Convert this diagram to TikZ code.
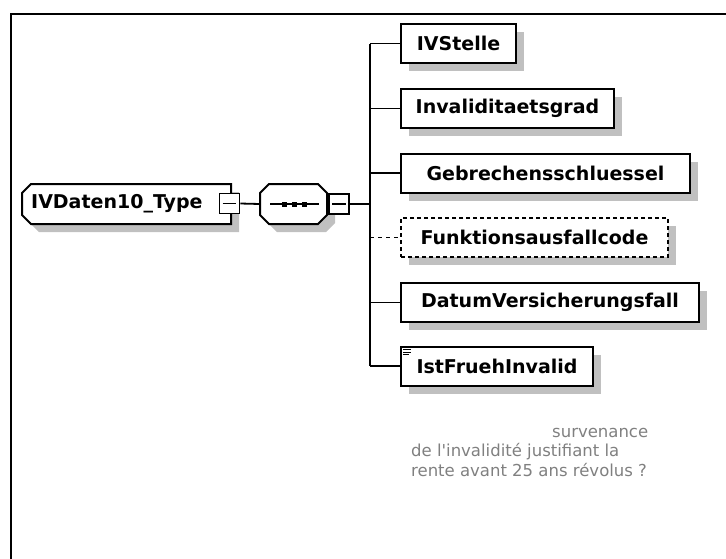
\documentclass[tikz,border=0pt]{standalone}
\usepackage{fontspec}
\setmainfont{DejaVu Sans}
\usetikzlibrary{shadows}
\definecolor{shadowgray}{HTML}{C0C0C0}
\definecolor{notegray}{HTML}{808080}
\tikzset{
  boxline/.style={line width=2pt, draw=black},
  conn/.style={line width=1.8pt, draw=black},
  elname/.style={font=\bfseries\fontsize{19}{22}\selectfont, inner sep=0pt},
  elbox/.style={draw, line width=2pt, fill=white, minimum height=39pt, inner sep=0pt,
    anchor=west, font=\bfseries\fontsize{19}{22}\selectfont,
    drop shadow={shadow xshift=8pt, shadow yshift=-8pt, fill=shadowgray, opacity=1}},
  optbox/.style={elbox, dash pattern=on 4pt off 3pt},
  minusbox/.style={draw, line width=1.6pt, fill=white, minimum size=20pt, inner sep=0pt},
  note/.style={text=notegray, font=\fontsize{16.5}{19.5}\selectfont, align=left, inner sep=0pt},
}
\begin{document}
\begin{tikzpicture}[x=1pt,y=-1pt]
\useasboundingbox (0,0) rectangle (726,558);
% frame
\draw[line width=2pt] (11,560) -- (11,14) -- (728,14);

% type box
\fill[shadowgray] (39,192) -- (239,192) -- (239,232) -- (39,232) -- (30,223) -- (30,201) -- cycle;
\draw[boxline, fill=white] (31,184) -- (231,184) -- (231,224) -- (31,224) -- (22,215) -- (22,193) -- cycle;
\node[inner sep=0pt, minimum width=209pt, minimum height=40pt] (type) at (126.5,204) {};
\node[elname, anchor=west] (typelabel) at (31,204) {IVDaten10\_Type};
\node[minusbox] (m1) at (229.5,203.5) {};
\draw[line width=1.5pt] ([xshift=4pt]m1.west) -- ([xshift=-4pt]m1.east);

% sequence
\fill[shadowgray] (277,192) -- (326,192) -- (335,201) -- (335,223) -- (326,232) -- (277,232) -- (268,223) -- (268,201) -- cycle;
\draw[boxline, fill=white] (269,184) -- (318,184) -- (327,193) -- (327,215) -- (318,224) -- (269,224) -- (260,215) -- (260,193) -- cycle;
\node[inner sep=0pt, minimum width=67pt, minimum height=40pt] (seq) at (293.5,204) {};
\draw[line width=1.5pt] (270,204) -- (319,204);
\foreach \cx in {284,294,304} \fill (\cx-2.5,201.5) rectangle (\cx+2.5,206.5);
\node[minusbox] (m2) at (339,204) {};
\draw[line width=1.5pt] ([xshift=4pt]m2.west) -- ([xshift=-4pt]m2.east);

\draw[conn] (m1.east) -- (seq.west);
\coordinate (bus) at (370,204);
\draw[conn] (m2.east) -- (bus);

% elements
\node[elbox, minimum width=115pt] (e1) at (400,43.5) {IVStelle};
\node[elbox, minimum width=213pt] (e2) at (400,108.5) {Invaliditaetsgrad};
\node[elbox, minimum width=289pt] (e3) at (400,173) {Gebrechensschluessel};
\node[optbox, minimum width=267pt] (e4) at (400,237.5) {Funktionsausfallcode};
\node[elbox, minimum width=298pt] (e5) at (400,302.5) {DatumVersicherungsfall};
\node[elbox, minimum width=192pt] (e6) at (400,366) {IstFruehInvalid};
\draw[line width=1pt] ([shift={(3pt,-4pt)}]e6.north west) -- ++(8,0)
  ([shift={(3pt,-6.5pt)}]e6.north west) -- ++(8,0)
  ([shift={(3pt,-9pt)}]e6.north west) -- ++(6,0);

% bus and branches
\coordinate (bustop) at (bus |- e1.west);
\coordinate (busbot) at (bus |- e6.west);
\draw[conn] (bustop) -- (busbot);
\draw[conn] (bustop) -- (e1.west);
\draw[conn] (bus |- e2.west) -- (e2.west);
\draw[conn] (bus |- e3.west) -- (e3.west);
\draw[conn, dash pattern=on 4pt off 4pt] (bus |- e4.west) -- (e4.west);
\draw[conn] (bus |- e5.west) -- (e5.west);
\draw[conn] (busbot) -- (e6.west);

% annotation
\node[note, anchor=north west] (ann) at (411,428) {\hspace*{141pt}survenance\\de l\textquotesingle invalidité justifiant la\\rente avant 25 ans révolus ?};
\end{tikzpicture}
\end{document}
